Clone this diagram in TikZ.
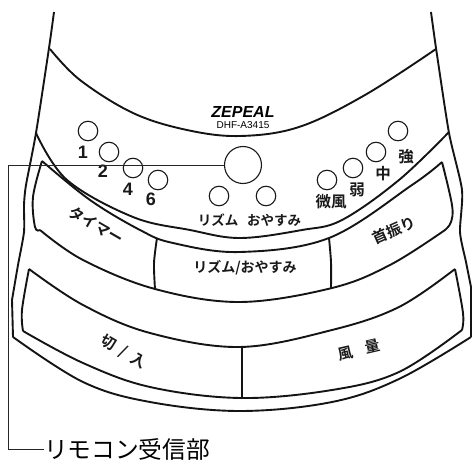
\documentclass[tikz,border=0pt]{standalone}
\usepackage{fontspec}
\setmainfont{Noto Sans CJK JP}
\setsansfont{Liberation Sans}
\newfontfamily\jpbold{Noto Sans CJK JP Bold}
\newfontfamily\lat{Liberation Sans}
\tikzset{
  body/.style={draw=black!92,line width=1.9pt,line join=miter},
  leader/.style={draw=black!85,line width=0.9pt},
  lamp/.style={circle,draw=black!90,line width=1.1pt,minimum size=19.5pt,inner sep=0pt},
  biglamp/.style={circle,draw=black!90,line width=1.1pt,minimum size=37pt,inner sep=0pt},
  lab/.style={font=\jpbold\fontsize{13.5}{13.5}\selectfont,inner sep=0pt,text=black!90},
  labb/.style={font=\jpbold\fontsize{15.5}{15.5}\selectfont,inner sep=0pt,text=black!90},
  num/.style={font=\lat\bfseries\fontsize{18}{18}\selectfont,inner sep=0pt,text=black!90},
  btn/.style={font=\jpbold\fontsize{15}{15}\selectfont,inner sep=0pt,text=black!90},
  btns/.style={font=\jpbold\fontsize{14}{14}\selectfont,inner sep=0pt,text=black!90},
}
\begin{document}
\begin{tikzpicture}[x=1pt,y=-1pt]
\useasboundingbox (0,0) rectangle (472,460);
% outer body
\draw[body] plot[smooth,tension=0.4] coordinates {(54,12) (49,48) (36,133) (26,185) (24,205) (24,232) (18,265) (12,300)} -- (13,337)
  plot[smooth,tension=0.6] coordinates {(13,337) (83,382) (150,402) (240,411) (332,402) (399,379) (471,337)};
\draw[body] plot[smooth,tension=0.4] coordinates {(431,12) (436,48) (449,133) (462,190) (460,232) (466,262) (471,287)} -- (471,337);
% arcs
\draw[body] plot[smooth,tension=0.6] coordinates {(50,49) (80,80) (133,113) (187,130) (240,136) (299,127) (365,95) (436,49)};
\draw[body] plot[smooth,tension=0.6] coordinates {(36,133) (67,180) (133,217) (190,230) (240,238) (302,230) (342,220) (399,180) (449,132)};
% upper button row
\draw[body] (42,161) plot[smooth,tension=0.6] coordinates {(42,161) (90,200) (140,230) (173,243) (240,252) (329,238) (412,185) (442,162)}
  plot[smooth,tension=0.6] coordinates {(442,162) (452,205) (451,222) (445,230)}
  plot[smooth,tension=0.6] coordinates {(445,230) (390,265) (332,288) (240,302) (155,289) (83,260) (40,230)}
  plot[smooth,tension=0.6] coordinates {(40,230) (35,227) (33,197) (42,161)};
\draw[body] plot[smooth,tension=0.5] coordinates {(157,238) (154,263) (155,289)};
\draw[body] plot[smooth,tension=0.5] coordinates {(329,238) (331,262) (331,288)};
% lower buttons
\draw[body] plot[smooth,tension=0.6] coordinates {(29,269) (83,305) (150,333) (240,347) (332,330) (399,307) (455,269)}
  plot[smooth,tension=0.6] coordinates {(455,269) (463,313) (462,330)}
  plot[smooth,tension=0.6] coordinates {(462,330) (399,372) (332,390) (240,398) (150,387) (83,363) (23,331)}
  plot[smooth,tension=0.6] coordinates {(23,331) (22,310) (29,269)};
\draw[body] (242,347) -- (242,398);
% lamps
\node[lamp] (l1) at (88,131) {};
\node[lamp] (l2) at (109,152) {};
\node[lamp] (l4) at (133,168) {};
\node[lamp] (l6) at (158,180) {};
\node[lamp] (lr) at (219,196) {};
\node[lamp] (lo) at (266,196) {};
\node[lamp] (lb) at (327,180) {};
\node[lamp] (lw) at (353,168) {};
\node[lamp] (lm) at (376,152) {};
\node[lamp] (ls) at (398,131) {};
\node[biglamp] (rc) at (243,165) {};
% labels
\node[num] (n1) at (83,152) {1};
\node[num] (n2) at (103,171) {2};
\node[num] (n4) at (128,189) {4};
\node[num] (n6) at (151,199) {6};
\node[lab] (t1) at (218,220) {リズム};
\node[lab] (t2) at (274,220) {おやすみ};
\node[labb] (t3) at (331,202) {微風};
\node[labb] (t4) at (357,190) {弱};
\node[labb] (t5) at (383,174) {中};
\node[labb] (t6) at (406,157) {強};
\node[font=\lat\bfseries\itshape\fontsize{16}{16}\selectfont,inner sep=0pt] (logo) at (243,112) {ZEPEAL};
\node[font=\lat\fontsize{10}{10}\selectfont,inner sep=0pt] (model) at (243,125) {DHF-A3415};
% buttons
\node[btn,rotate=-30] (b1) at (96,225) {タイマー};
\node[btns] (b2) at (245,268) {リズム/おやすみ};
\node[btn,rotate=24] (b3) at (394,230) {首振り};
\node[btn,rotate=-30] (b4) at (123,352) {切\hspace{7pt}/\hspace{7pt}入};
\node[btn,rotate=13] (b5) at (359,350) {風\hspace{12pt}量};
% receiver label
\node[font=\fontsize{23.7}{23.7}\selectfont,inner sep=0pt,anchor=west] (rx) at (44,449) {リモコン受信部};
\coordinate (corner) at (8,165);
\draw[leader] (rc.west) -- (corner) |- (rx.west);
\end{tikzpicture}
\end{document}
